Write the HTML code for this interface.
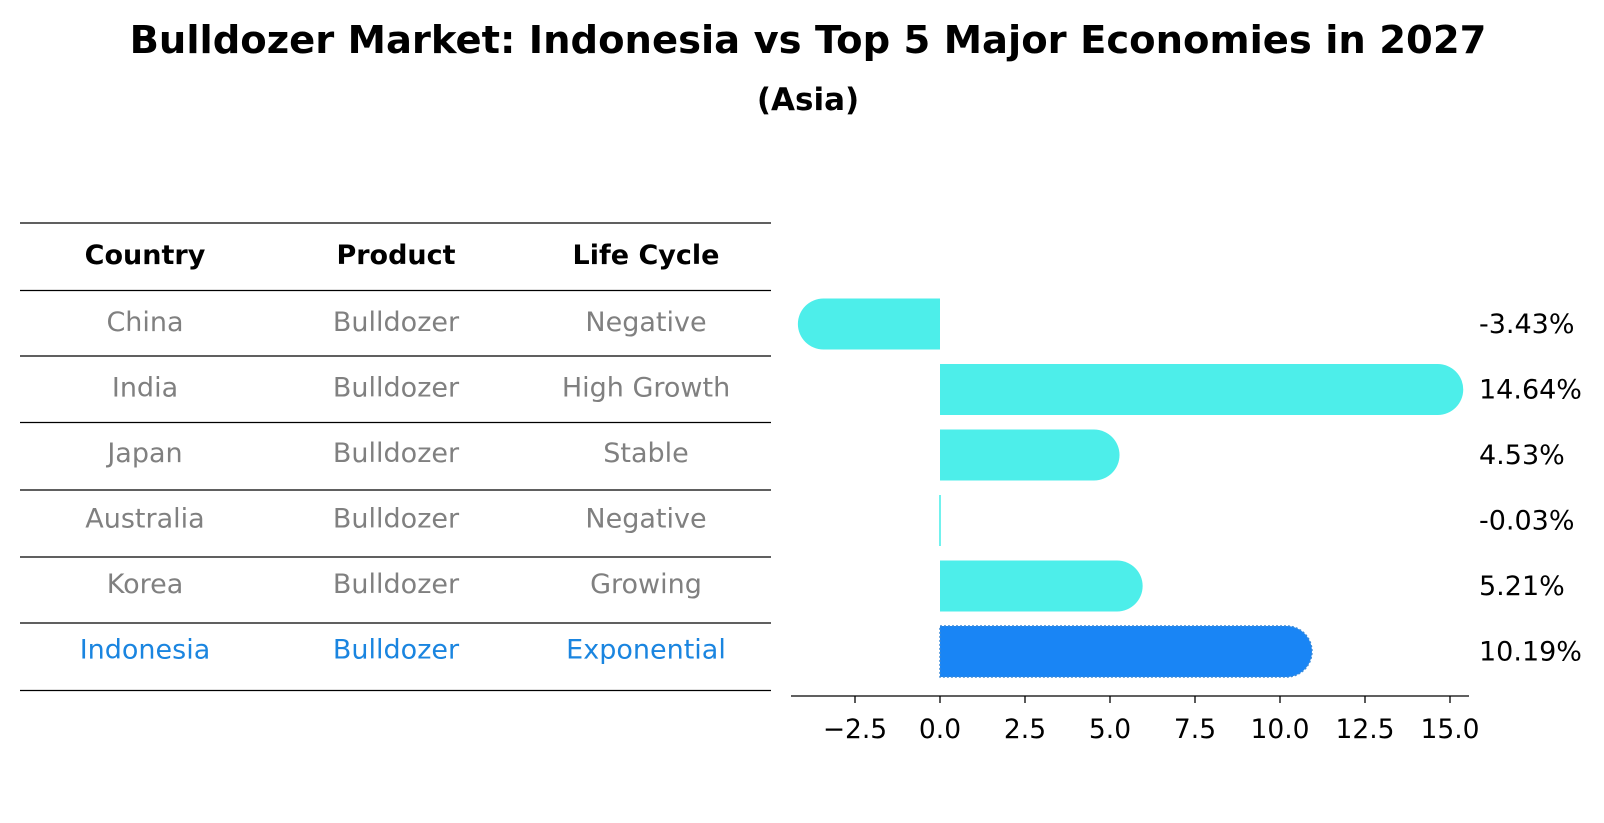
<!DOCTYPE html>
<html><head><meta charset="utf-8"><style>
body{margin:0;background:#fff;font-family:"Liberation Sans","DejaVu Sans",sans-serif}
svg{display:block}
</style></head><body>
<svg width="1604" height="823" id="svg" font-family="DejaVu Sans, Liberation Sans, sans-serif">
<text x="808" y="53" text-anchor="middle" font-size="38.5" font-weight="bold">Bulldozer Market: Indonesia vs Top 5 Major Economies in 2027</text>
<text x="808" y="110" text-anchor="middle" font-size="31" font-weight="bold">(Asia)</text>
<g id="table"></g>
<g id="bars"></g>
</svg>
<script>
const countries=["China","India","Japan","Australia","Korea","Indonesia"];
const products=["Bulldozer","Bulldozer","Bulldozer","Bulldozer","Bulldozer","Bulldozer"];
const lifeCycles=["Negative","High Growth","Stable","Negative","Growing","Exponential"];
const growth=[-3.43,14.64,4.53,-0.03,5.21,10.19];
const ticks=[-2.5,0,2.5,5,7.5,10,12.5,15];
const NS="http://www.w3.org/2000/svg";
function mk(tag,attrs,parent){const e=document.createElementNS(NS,tag);for(const k in attrs)e.setAttribute(k,attrs[k]);parent.appendChild(e);return e;}
const table=document.getElementById('table'),bars=document.getElementById('bars');
const lines=[223,290.5,356,422.5,490,557,623,690.5];
lines.forEach(y=>{const l=mk('line',{x1:20,x2:771,y1:y,y2:y,stroke:'#000','stroke-width':1.2},table);

});
const colX=[145,396,646];
["Country","Product","Life Cycle"].forEach((h,i)=>{const t=mk('text',{x:colX[i],y:264,'text-anchor':'middle','font-size':27,'font-weight':'bold'},table);t.textContent=h;

});
const x0=940,ppu=34,rowY=i=>324+i*65.5,bh=51;
const X=v=>x0+v*ppu;
countries.forEach((c,i)=>{
 const y=rowY(i);const isI=c==="Indonesia";const col=isI?'#1a85e0':'#808080';
 [c,products[i],lifeCycles[i]].forEach((s,j)=>{const t=mk('text',{x:colX[j],y:y+7,'text-anchor':'middle','font-size':27,fill:col},table);t.textContent=s;
 
 });
 const v=growth[i];const fill=isI?'#1985f5':'#4deeea';
 const xa=Math.min(X(0),X(v)),xb=Math.max(X(0),X(v));
 const r=bh/2;let d;
 if(Math.abs(xb-xa)<3){d=`M${X(0)-0.8},${y-r}h1.6v${bh}h-1.6z`;}
 else if(v>=0){d=`M${xa},${y-r}H${xb}A${r},${r} 0 0 1 ${xb},${y+r}H${xa}Z`;}
 else{d=`M${xb},${y-r}H${xa}A${r},${r} 0 0 0 ${xa},${y+r}H${xb}Z`;}
 const p=mk('path',{d:d,fill:fill},bars);
 if(isI){p.setAttribute('stroke','#3a8ad8');p.setAttribute('stroke-dasharray','2,2');p.setAttribute('stroke-width','1.5');}
 
 
 const t=mk('text',{x:1479,y:y+9,'font-size':27},bars);t.textContent=v.toFixed(2)+'%';
 
 
});
const ax=mk('line',{x1:791,x2:1469,y1:696,y2:696,stroke:'#000','stroke-width':1.3},bars);


ticks.forEach(t=>{const l=mk('line',{x1:X(t),x2:X(t),y1:696,y2:703,stroke:'#000','stroke-width':1.3},bars);


const tx=mk('text',{x:X(t),y:738,'text-anchor':'middle','font-size':26.5},bars);tx.textContent=(t<0?'\u2212':'')+Math.abs(t).toFixed(1);

});
</script>
</body></html>
